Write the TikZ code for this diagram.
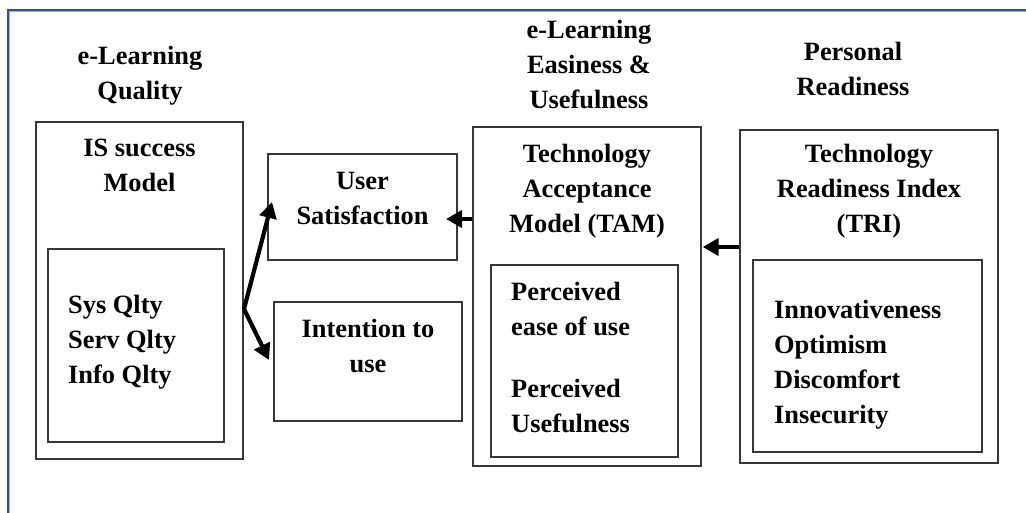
\documentclass[tikz,border=0pt]{standalone}
\usepackage{fontspec}
\setmainfont{Liberation Serif}
\usetikzlibrary{arrows.meta,fit}
\definecolor{framedark}{RGB}{47,84,150}
\definecolor{framelight}{RGB}{150,180,225}
\definecolor{boxgray}{RGB}{55,55,55}
\begin{document}
\begin{tikzpicture}[x=1pt,y=-1pt,
  box/.style={draw=boxgray,line width=1.3pt,inner sep=0pt,rectangle},
  lbl/.style={inner sep=0pt,font=\fontsize{26.4}{35}\selectfont\bfseries,text=black},
  ctr/.style={lbl,align=center,anchor=north},
  lft/.style={lbl,align=left,anchor=north west},
  arr/.style={line width=4.2pt,-{Triangle[length=16pt,width=17pt]}}]
\clip (0,0) rectangle (1026,513);
\fill[white] (0,0) rectangle (1026,513);
% outer frame (only top and left visible)
\draw[framedark,line width=2pt] (1040,10) -- (7.5,10) -- (7.5,530);
\draw[framelight,line width=0.8pt] (1040,11.8) -- (9.3,11.8) -- (9.3,530);
% headers
\node[ctr] (hq) at (140,46) {e-Learning\\Quality};
\node[ctr] (he) at (589,20) {e-Learning\\Easiness \&\\Usefulness};
\node[ctr] (hp) at (853,42) {Personal\\Readiness};
% boxes
\node[box,fit={(36,122) (243,459)}] (is) {};
\node[box,fit={(48,249) (224,442)}] (isin) {};
\node[box,fit={(268,154) (457,260)}] (us) {};
\node[box,fit={(274,302) (462,421)}] (iu) {};
\node[box,fit={(473,127) (701,466)}] (tam) {};
\node[box,fit={(491,265) (678,457)}] (tamin) {};
\node[box,fit={(740,130) (998,463)}] (tri) {};
\node[box,fit={(753,260) (982,452)}] (triin) {};
% texts
\node[ctr] (ist) at (139.5,139) {IS success\\Model};
\node[lft] (isl) at (68,295) {Sys Qlty\\Serv Qlty\\Info Qlty};
\node[ctr] (ust) at (362.5,172) {User\\Satisfaction};
\node[ctr] (iut) at (368,319) {Intention to\\use};
\node[ctr] (tamt) at (587,144) {Technology\\Acceptance\\Model (TAM)};
\node[lft] (taml) at (511,282) {Perceived\\ease of use\\[27pt]Perceived\\Usefulness};
\node[ctr] (trit) at (869,144) {Technology\\Readiness Index\\(TRI)};
\node[lft] (tril) at (774,300) {Innovativeness\\Optimism\\Discomfort\\Insecurity};
% connectors
\coordinate (fork) at (244,309);
\coordinate (usin) at (272,202);
\coordinate (iuin) at (269,360);
\coordinate (ustip) at (446,219);
\draw[arr] (fork) -- (usin);
\draw[arr] (fork) -- (iuin);
\draw[arr] (tam.west |- ustip) -- (ustip);
\draw[arr] (tri.west |- 0,247) -- ([xshift=1pt]tam.east |- 0,247);
\end{tikzpicture}
\end{document}
